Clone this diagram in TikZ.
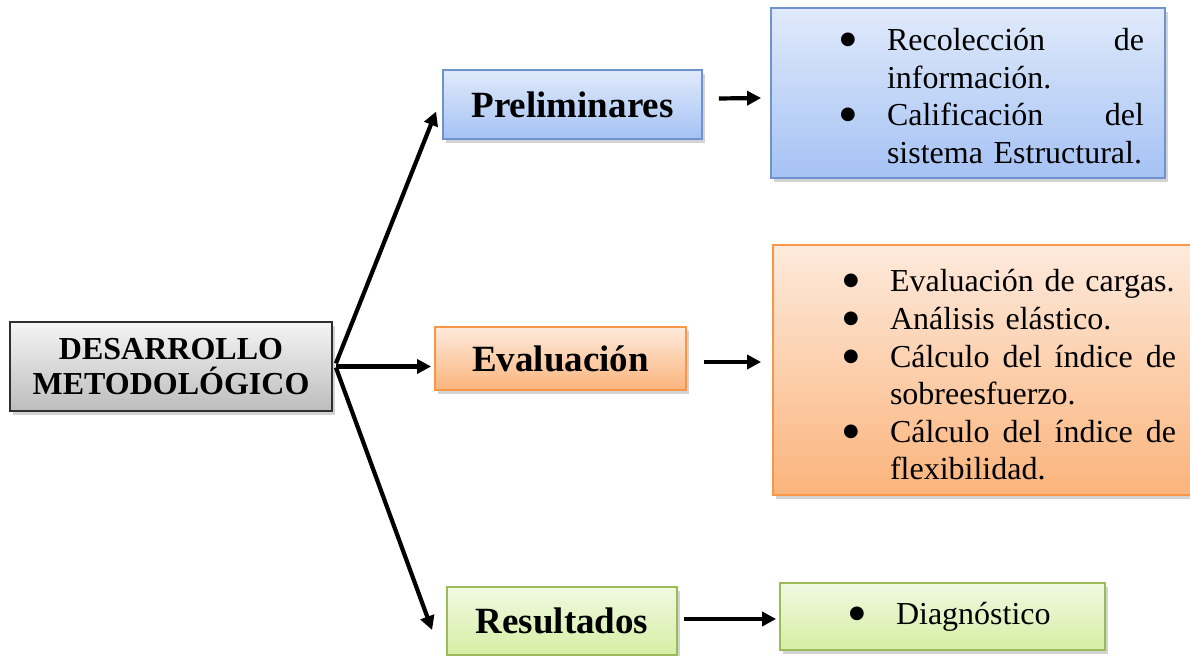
\documentclass[tikz,border=0pt]{standalone}
\usepackage{fontspec}
\setmainfont{Liberation Serif}
\newfontfamily\dejavu{DejaVu Sans}
\usetikzlibrary{arrows.meta,shadows}
\definecolor{grayTop}{HTML}{F4F4F4}
\definecolor{grayBot}{HTML}{BDBDBD}
\definecolor{grayLine}{HTML}{2E2E2E}
\definecolor{blueTop}{HTML}{E0EAFB}
\definecolor{blueBot}{HTML}{A5C2F4}
\definecolor{blueLine}{HTML}{6E93CF}
\definecolor{orTop}{HTML}{FDEADC}
\definecolor{orBot}{HTML}{FBB47C}
\definecolor{orLine}{HTML}{F79646}
\definecolor{grTop}{HTML}{F1F9E2}
\definecolor{grBot}{HTML}{D5EEA3}
\definecolor{grLine}{HTML}{9BBB59}
\newcommand\bul{\makebox[22pt][l]{\hspace*{-1.5pt}\raisebox{3pt}{\dejavu\fontsize{9}{9}\selectfont ●}}}
\begin{document}
\begin{tikzpicture}[x=0.5pt,y=-0.5pt,
  box/.style={draw, line width=0.9pt, inner sep=0pt,
    drop shadow={opacity=0.35,shadow xshift=1.5pt,shadow yshift=-2pt}},
  head/.style={box, font=\fontsize{18.5}{22}\selectfont\bfseries},
  listbox/.style={box, font=\fontsize{16}{18.8}\selectfont, inner xsep=10pt, align=left},
  arr/.style={line width=2.1pt, -{Triangle[length=7pt,width=7pt]}}]
\useasboundingbox (0,0) rectangle (1190,656);

% left root
\node[box, draw=grayLine, top color=grayTop, bottom color=grayBot,
  minimum width=161pt, minimum height=44.5pt, align=center,
  font=\fontsize{16}{17.5}\selectfont\bfseries] (des) at (171,366.5)
  {DESARROLLO\\METODOLÓGICO};

% middle heads
\node[head, draw=blueLine, top color=blueTop, bottom color=blueBot,
  minimum width=129.5pt, minimum height=34.5pt] (prel) at (572.5,104.5) {Preliminares};
\node[head, draw=orLine, top color=orTop, bottom color=orBot,
  minimum width=125.5pt, minimum height=31.5pt] (eval) at (560.5,358.5) {Evaluación};
\node[head, draw=grLine, top color=grTop, bottom color=grBot,
  minimum width=115pt, minimum height=34pt] (res) at (562,621) {Resultados};

% right lists
\node[listbox, draw=blueLine, top color=blueTop, bottom color=blueBot,
  minimum width=197pt, minimum height=85pt, text width=177pt] (blist) at (968,93)
  {\hspace*{26pt}\bul\makebox[128.5pt][s]{\rule{0pt}{14.2pt}Recolección\hfill de}\\
   \hspace*{48pt}información.\\
   \hspace*{26pt}\bul\makebox[128.5pt][s]{Calificación\hfill del}\\
   \hspace*{48pt}sistema Estructural.};
\node[listbox, draw=orLine, top color=orTop, bottom color=orBot,
  minimum width=212pt, minimum height=125pt, text width=192pt] (olist) at (985,370)
  {\hspace*{26.5pt}\bul\rule{0pt}{16.2pt}Evaluación de cargas.\\
   \hspace*{26.5pt}\bul Análisis elástico.\\
   \hspace*{26.5pt}\bul\makebox[143pt][s]{Cálculo\hfill del\hfill índice\hfill de}\\
   \hspace*{48.5pt}sobreesfuerzo.\\
   \hspace*{26.5pt}\bul\makebox[143pt][s]{Cálculo\hfill del\hfill índice\hfill de}\\
   \hspace*{48.5pt}flexibilidad.};
\node[listbox, draw=grLine, top color=grTop, bottom color=grBot,
  minimum width=162.5pt, minimum height=33.5pt, text width=142.5pt] (diag) at (942.5,616.5)
  {\hspace*{26pt}\raisebox{-1.5pt}{\bul Diagnóstico}};

% connectors
\draw[arr] ([xshift=1.5pt,yshift=1.5pt]des.east) -- ([shift={(-3pt,-3.5pt)}]prel.west);
\draw[arr] ([xshift=1.5pt]des.east) -- ([xshift=-1.5pt]des.east -| eval.west);
\draw[arr] ([xshift=1.5pt,yshift=-0.5pt]des.east) -- ([shift={(-7pt,-4.5pt)}]res.west);
\draw[arr] ([xshift=8pt,yshift=3pt]prel.east) -- ([xshift=-4.5pt,yshift=-2.5pt]blist.west);
\draw[arr] ([xshift=8.5pt,yshift=-1.75pt]eval.east) -- ([xshift=-5.5pt,yshift=4pt]olist.west);
\draw[arr] ([xshift=3pt,yshift=1pt]res.east) -- ([xshift=-1.5pt,yshift=-1.25pt]diag.west);
\end{tikzpicture}
\end{document}
